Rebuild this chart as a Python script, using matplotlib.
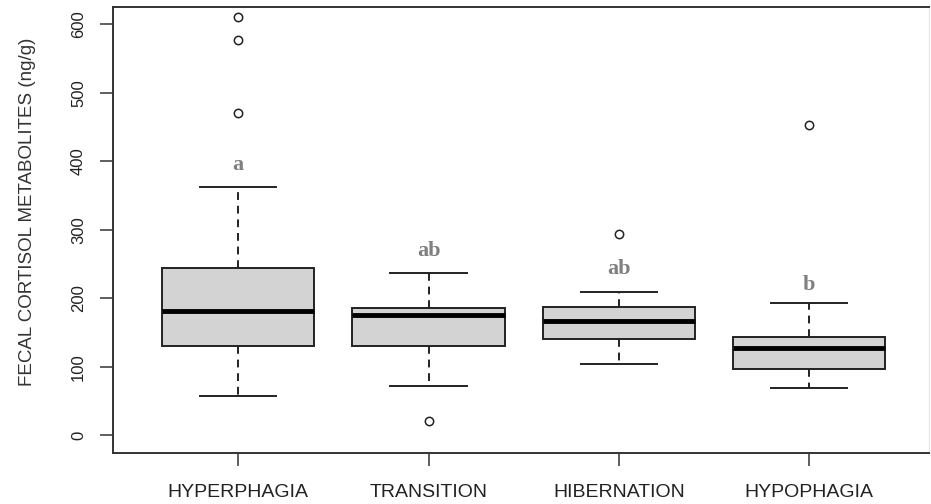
"""Boxplot of fecal cortisol metabolites by seasonal period (R-style)."""

import matplotlib
matplotlib.use("Agg")
import matplotlib.pyplot as plt

# values (ng/g)
periods = ["HYPERPHAGIA", "TRANSITION", "HIBERNATION", "HYPOPHAGIA"]
whisker_low = [57, 72, 104, 69]
q1 = [130, 130, 140, 96]
median = [181, 175, 166, 127]
q3 = [244, 185, 187, 143]
whisker_high = [362, 237, 209, 193]
outliers = [[470, 577, 610], [20], [293], [453]]
letters = ["a", "ab", "ab", "b"]
letter_y = [387, 261, 235, 212]
y_ticks = [0, 100, 200, 300, 400, 500, 600]

W, H = 931, 504
fig = plt.figure(figsize=(W / 100, H / 100), dpi=100)
# plot region in pixels: left 113, right 929, top 7, bottom 453
ax = fig.add_axes([113 / W, (H - 453) / H, (929 - 113) / W, (453 - 7) / H])

stats = []
for i in range(len(periods)):
    stats.append({
        "whislo": whisker_low[i], "q1": q1[i], "med": median[i],
        "q3": q3[i], "whishi": whisker_high[i], "fliers": outliers[i],
    })

positions = list(range(1, len(periods) + 1))
ax.bxp(
    stats, positions=positions, widths=0.8, patch_artist=True,
    boxprops=dict(facecolor="#d3d3d3", edgecolor="#222222", linewidth=1.4),
    medianprops=dict(color="black", linewidth=3.5),
    whiskerprops=dict(color="#222222", linewidth=1.4, linestyle=(0, (4, 3))),
    capprops=dict(color="#222222", linewidth=1.4),
    capwidths=0.4,
    flierprops=dict(marker="o", markersize=6, markerfacecolor="white",
                    markeredgecolor="#222222", markeredgewidth=1.1),
)

for x, lab, y in zip(positions, letters, letter_y):
    ax.text(x, y, lab, ha="center", va="baseline", color="#808080",
            fontsize=16, fontweight="bold", family="Liberation Serif")

ax.set_xlim(0.342, 4.63)
ax.set_ylim(-26, 625)

ax.set_yticks(y_ticks)
ax.set_yticklabels([str(v) for v in y_ticks], rotation=90, va="center",
                   fontsize=12, family="Liberation Sans", color="#222222")
ax.set_xticks(positions)
ax.set_xticklabels(periods, fontsize=14, family="Liberation Sans",
                   color="#222222")
ax.tick_params(axis="y", length=9.5, width=1.1, color="#333333", pad=10)
ax.tick_params(axis="x", length=9, width=1.1, color="#333333", pad=13)

for side in ["left", "bottom", "top"]:
    ax.spines[side].set_color("#333333")
    ax.spines[side].set_linewidth(1.4)
ax.spines["right"].set_color("#e8e8e8")
ax.spines["right"].set_linewidth(1.0)

fig.text(28 / W, 1 - 212 / H, "FECAL CORTISOL METABOLITES (ng/g)",
         rotation=90, ha="center", va="center", fontsize=13.5,
         family="Liberation Sans", color="#333333")

fig.savefig("out.png", dpi=100)
plt.close(fig)
